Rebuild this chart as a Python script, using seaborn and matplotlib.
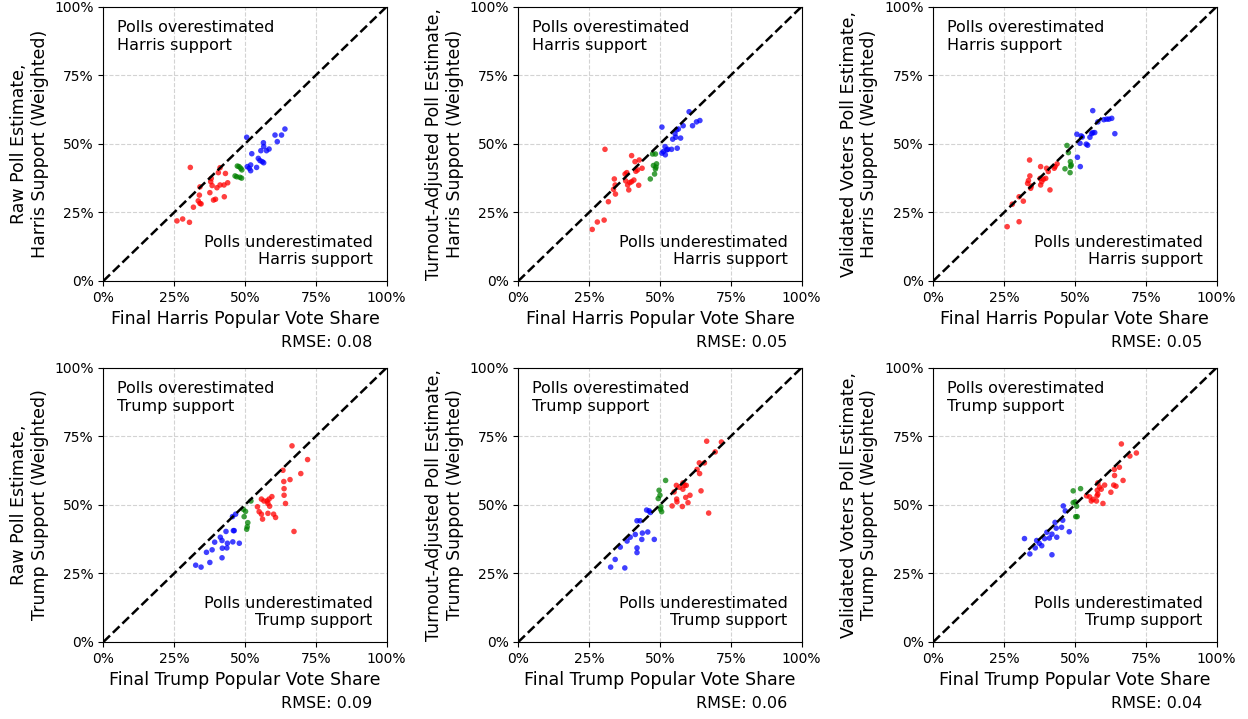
import numpy as np
import pandas as pd
import seaborn as sns
from matplotlib import pyplot as plt
from matplotlib.ticker import PercentFormatter

# values, in percent: (final vote share, poll estimate)
harris_raw_red = [(26.0, 21.9), (28.0, 22.6), (30.4, 21.4), (30.7, 41.4), (31.8, 26.9), (33.9, 31.3),
                  (34.1, 34.3), (33.5, 29.2), (34.1, 28.3), (34.5, 28.1), (37.6, 32.2), (37.9, 36.2),
                  (38.1, 37.4), (38.4, 34.8), (38.9, 29.5), (39.6, 29.8), (40.1, 34.0), (40.6, 39.5),
                  (41.2, 41.3), (41.2, 35.0), (42.6, 35.0), (42.7, 30.7), (43.1, 39.2), (43.9, 35.8)]
harris_raw_green = [(46.5, 38.3), (47.1, 38.0), (47.3, 41.9), (47.9, 41.7), (48.2, 37.8), (48.5, 41.1),
                    (48.8, 37.5), (48.9, 40.5)]
harris_raw_blue = [(50.6, 52.4), (50.8, 41.7), (51.5, 41.1), (52.0, 40.2), (52.0, 42.3), (52.4, 46.4),
                   (54.1, 41.4), (54.7, 44.7), (55.3, 43.9), (55.6, 47.5), (56.1, 43.5), (56.5, 50.4),
                   (56.6, 49.0), (56.6, 43.1), (57.6, 47.5), (58.5, 48.1), (60.6, 53.2), (61.4, 50.8),
                   (62.9, 53.2), (64.1, 55.4)]

harris_turn_red = [(26.1, 18.8), (27.9, 21.5), (30.3, 22.2), (30.6, 48.0), (31.8, 28.9), (33.6, 33.4),
                   (33.9, 37.2), (34.3, 31.7), (34.2, 35.0), (37.7, 39.0), (38.3, 39.5), (37.9, 36.5),
                   (38.6, 35.0), (39.0, 33.2), (39.4, 35.9), (40.0, 45.7), (40.0, 36.2), (40.8, 36.8),
                   (41.2, 43.5), (42.1, 40.5), (42.5, 34.9), (42.7, 44.1), (43.7, 41.1), (41.5, 40.0)]
harris_turn_green = [(47.4, 46.3), (48.4, 46.3), (48.8, 42.7), (47.7, 42.1), (48.6, 41.5), (48.4, 40.8),
                     (48.1, 39.0), (46.6, 37.2)]
harris_turn_blue = [(50.7, 56.1), (50.7, 46.6), (51.2, 47.2), (51.8, 49.0), (51.9, 46.0), (52.4, 47.8),
                    (52.8, 48.0), (54.1, 48.0), (54.5, 51.7), (55.3, 53.7), (55.6, 52.4), (55.9, 55.1),
                    (56.5, 55.4), (56.1, 48.4), (57.3, 52.1), (58.2, 56.6), (60.3, 61.7), (61.5, 56.6),
                    (62.9, 58.0), (64.1, 58.5)]

harris_val_red = [(26.1, 19.8), (30.3, 21.6), (27.9, 28.0), (30.3, 30.7), (31.8, 29.1), (34.0, 44.1),
                  (33.6, 36.6), (33.3, 35.6), (34.1, 38.3), (34.4, 33.8), (34.6, 34.6), (37.7, 37.4),
                  (37.9, 35.0), (38.3, 36.2), (38.9, 37.1), (39.7, 37.4), (37.9, 41.7), (40.0, 41.1),
                  (40.6, 39.9), (41.2, 33.2), (42.7, 41.1), (43.0, 41.7), (43.7, 42.7)]
harris_val_green = [(47.2, 49.4), (47.7, 46.8), (48.4, 43.5), (48.7, 42.3), (48.5, 41.8), (46.5, 40.9),
                    (48.3, 39.5)]
harris_val_blue = [(50.7, 53.5), (51.8, 50.2), (52.2, 52.9), (50.9, 45.1), (51.9, 41.7), (52.6, 52.5),
                   (54.0, 49.9), (54.5, 49.5), (55.3, 52.4), (55.9, 53.7), (56.3, 54.1), (57.0, 54.1),
                   (56.3, 62.1), (58.1, 58.0), (60.2, 58.8), (61.2, 59.0), (62.0, 59.0), (63.0, 59.3),
                   (64.1, 53.7)]

trump_raw_blue = [(32.6, 28.0), (34.5, 27.3), (37.6, 29.0), (36.4, 32.7), (38.4, 33.6), (39.3, 36.4),
                  (41.3, 38.2), (41.9, 37.0), (42.0, 34.2), (41.9, 30.7), (43.3, 40.3), (43.6, 34.3),
                  (43.8, 36.0), (45.7, 36.5), (45.9, 40.6), (46.2, 40.6), (48.0, 36.0), (45.6, 45.7),
                  (46.7, 46.6)]
trump_raw_green = [(52.1, 51.4), (49.4, 48.4), (50.2, 47.6), (49.7, 45.7), (51.0, 43.5), (50.8, 42.0),
                   (50.6, 41.1)]
trump_raw_red = [(66.6, 71.5), (72.1, 66.5), (63.4, 62.6), (69.7, 61.4), (65.9, 59.2), (63.7, 58.5),
                 (63.8, 55.9), (63.8, 53.5), (64.3, 50.5), (67.3, 40.3), (55.8, 52.1), (56.7, 51.4),
                 (57.8, 51.4), (58.5, 52.1), (59.5, 53.0), (58.1, 50.5), (58.7, 49.5), (54.4, 49.3),
                 (55.0, 47.5), (55.8, 46.6), (56.2, 44.8), (58.1, 46.9), (60.1, 46.6), (60.8, 45.4)]

trump_turn_blue = [(32.6, 27.3), (37.6, 27.0), (34.2, 30.1), (36.0, 34.6), (38.4, 36.8), (39.5, 38.2),
                   (41.9, 34.3), (41.9, 32.6), (41.3, 39.2), (43.6, 37.4), (43.8, 39.7), (45.7, 40.1),
                   (48.0, 37.4), (41.9, 44.2), (43.0, 44.2), (45.3, 48.1), (46.2, 47.8), (46.6, 47.2)]
trump_turn_green = [(52.0, 58.9), (49.7, 55.3), (50.0, 53.5), (49.4, 52.3), (50.3, 49.3), (50.6, 47.5),
                    (50.2, 48.4)]
trump_turn_red = [(66.5, 73.2), (71.7, 72.9), (69.5, 69.3), (63.9, 65.3), (65.7, 65.3), (63.1, 62.9),
                  (64.0, 61.4), (64.5, 55.1), (67.2, 47.0), (55.8, 57.1), (55.0, 54.7), (58.1, 58.0),
                  (58.7, 57.1), (58.1, 55.7), (59.3, 57.1), (56.9, 56.4), (60.6, 53.5), (59.1, 52.7),
                  (55.9, 52.1), (56.0, 51.1), (59.9, 50.8), (54.3, 49.6), (57.9, 49.4)]

trump_val_blue = [(32.2, 37.7), (34.1, 32.1), (36.0, 34.3), (36.5, 37.0), (37.4, 36.0), (38.3, 35.1),
                  (39.3, 37.7), (40.1, 40.0), (41.0, 37.9), (41.9, 39.3), (41.9, 31.8), (43.0, 43.6),
                  (43.6, 38.2), (43.4, 41.5), (45.3, 41.8), (45.7, 44.4), (45.9, 49.6), (46.6, 47.8),
                  (48.0, 40.2)]
trump_val_green = [(49.4, 55.1), (52.0, 55.9), (49.4, 50.8), (50.1, 51.1), (50.6, 49.5), (50.3, 45.7),
                   (50.8, 45.7)]
trump_val_red = [(66.4, 72.2), (69.4, 67.8), (71.7, 68.9), (63.9, 62.9), (65.7, 63.7), (64.0, 60.7),
                 (67.0, 58.9), (63.7, 57.2), (64.5, 56.8), (62.7, 54.6), (58.1, 58.0), (60.5, 57.2),
                 (58.7, 56.5), (57.9, 55.3), (59.3, 55.7), (58.1, 53.9), (57.8, 53.3), (55.2, 52.9),
                 (54.1, 53.3), (55.8, 51.4), (56.4, 52.0), (57.6, 51.4), (59.9, 50.5)]

ylabels = ["Raw Poll Estimate,", "Turnout-Adjusted Poll Estimate,", "Validated Voters Poll Estimate,"]
rmse = [["0.08", "0.05", "0.05"], ["0.09", "0.06", "0.04"]]
candidates = ["Harris", "Trump"]

panels = [
    [(harris_raw_red, harris_raw_green, harris_raw_blue),
     (harris_turn_red, harris_turn_green, harris_turn_blue),
     (harris_val_red, harris_val_green, harris_val_blue)],
    [(trump_raw_red, trump_raw_green, trump_raw_blue),
     (trump_turn_red, trump_turn_green, trump_turn_blue),
     (trump_val_red, trump_val_green, trump_val_blue)],
]

palette = {"red": "red", "green": "green", "blue": "blue"}

fig = plt.figure(figsize=(12.48, 7.19), dpi=100)

for r in range(2):
    for c in range(3):
        ax = fig.add_axes([0.0828 + c * 0.3325, [0.6092, 0.1071][r], 0.227, 0.3815])
        rows = []
        for name, pts in zip(["red", "green", "blue"], panels[r][c]):
            for x, y in pts:
                rows.append({"x": x, "y": y, "grp": name})
        df = pd.DataFrame(rows)

        ax.grid(True, linestyle="--", color="lightgrey", linewidth=0.8)
        ax.set_axisbelow(True)
        sns.scatterplot(data=df, x="x", y="y", hue="grp", palette=palette, s=16,
                        alpha=0.75, edgecolor="none", legend=False, ax=ax)
        ax.plot([0, 100], [0, 100], "k--", linewidth=1.8)

        ax.set_xlim(0, 100)
        ax.set_ylim(0, 100)
        ax.set_xticks([0, 25, 50, 75, 100])
        ax.set_yticks([0, 25, 50, 75, 100])
        ax.xaxis.set_major_formatter(PercentFormatter(100, decimals=0))
        ax.yaxis.set_major_formatter(PercentFormatter(100, decimals=0))
        ax.tick_params(labelsize=10)

        cand = candidates[r]
        ax.set_xlabel(f"Final {cand} Popular Vote Share", fontsize=12.5)
        ax.set_ylabel(f"{ylabels[c]}\n{cand} Support (Weighted)", fontsize=12.5)

        ax.text(0.05, 0.95, f"Polls overestimated\n{cand} support", transform=ax.transAxes,
                ha="left", va="top", fontsize=11.5)
        ax.text(0.95, 0.05, f"Polls underestimated\n{cand} support", transform=ax.transAxes,
                ha="right", va="bottom", multialignment="right", fontsize=11.5)
        ax.text(0.95, -0.226, f"RMSE: {rmse[r][c]}", transform=ax.transAxes,
                ha="right", va="center", fontsize=11.5)

plt.savefig("out.png", dpi=100)
